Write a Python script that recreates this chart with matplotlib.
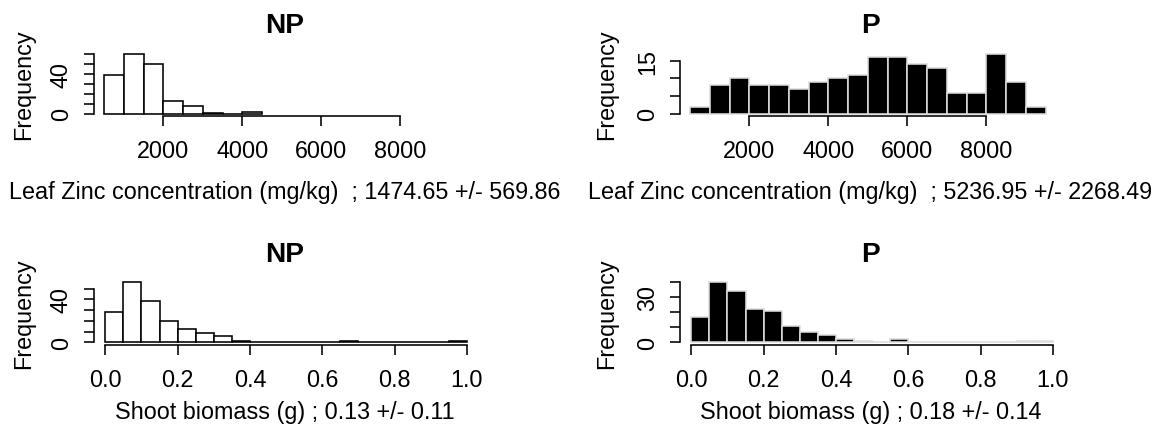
import matplotlib
matplotlib.use("Agg")
import matplotlib.pyplot as plt
from matplotlib.ticker import FixedLocator, FixedFormatter

plt.rcParams["font.family"] = ["Liberation Sans", "DejaVu Sans"]

# ---------------- data ----------------
groups = ["NP", "P"]

# Leaf zinc histograms (bin edges in mg/kg, counts per bin)
zinc_breaks_np = [500, 1000, 1500, 2000, 2500, 3000, 3500, 4000, 4500]
zinc_counts_np = [39, 60, 50, 13, 8, 1, 0, 2]
zinc_breaks_p = [500, 1000, 1500, 2000, 2500, 3000, 3500, 4000, 4500, 5000,
                 5500, 6000, 6500, 7000, 7500, 8000, 8500, 9000, 9500]
zinc_counts_p = [2, 8, 10, 8, 8, 7, 9, 10, 11, 16, 16, 14, 13, 6, 6, 17, 9, 2]
zinc_mean = [1474.65, 5236.95]
zinc_sd = [569.86, 2268.49]

# Shoot biomass histograms (bin edges in g, counts per bin)
biomass_breaks = [0.00, 0.05, 0.10, 0.15, 0.20, 0.25, 0.30, 0.35, 0.40, 0.45, 0.50,
                  0.55, 0.60, 0.65, 0.70, 0.75, 0.80, 0.85, 0.90, 0.95, 1.00]
biomass_counts_np = [28, 56, 38, 20, 12, 9, 6, 1, 0, 0, 0, 0, 0, 1, 0, 0, 0, 0, 0, 1]
biomass_counts_p = [17, 40, 34, 22, 21, 11, 7, 5, 2, 1, 0, 2, 0, 0, 0, 0, 0, 0, 1, 1]
biomass_mean = [0.13, 0.18]
biomass_sd = [0.11, 0.14]

zinc_xticks = [2000, 4000, 6000, 8000]
biomass_xticks = [0.0, 0.2, 0.4, 0.6, 0.8, 1.0]
biomass_xticklabels = ["0.0", "0.2", "0.4", "0.6", "0.8", "1.0"]

# y ticks and which of them carry a label
yticks = {
    ("zinc", "NP"): ([0, 10, 20, 30, 40, 50, 60], [0, 40]),
    ("zinc", "P"): ([0, 5, 10, 15], [0, 15]),
    ("biomass", "NP"): ([0, 10, 20, 30, 40, 50], [0, 40]),
    ("biomass", "P"): ([0, 10, 20, 30, 40], [0, 30]),
}

# ---------------- layout (pixels) ----------------
W, H, DPI = 1162, 431, 100
fig = plt.figure(figsize=(W / DPI, H / DPI), dpi=DPI)
fig.patch.set_facecolor("white")

BASE = 16.8          # pt
TITLE = 20.2         # pt
COL_SHIFT = 586.0
LW = 1.15


def fx(px):
    return px / W


def fy(py):
    return 1 - py / H


def add_px_axes(left, top, right, bottom):
    return fig.add_axes([left / W, 1 - bottom / H, (right - left) / W, (bottom - top) / H])


def draw_panel(col, row, breaks, counts, filled, key, xticks, xticklabels,
               x_anchor_val, x_anchor_px, x_scale, xlabel):
    shift = col * COL_SHIFT
    if row == 0:
        top, bottom = 52.2, 117.2
        title_base, tick_top, xlabel_base = 33.3, 140.0, 199.0
    else:
        top, bottom = 280.7, 345.7
        title_base, tick_top, xlabel_base = 261.7, 369.0, 419.0
    left = 93.7 + shift
    right = 480.0 + shift
    ax = add_px_axes(left, top, right, bottom)

    # x limits so that the data anchor lands on the requested pixel
    x0 = x_anchor_px + shift
    ax.set_xlim(x_anchor_val + (left - x0) / x_scale, x_anchor_val + (right - x0) / x_scale)
    ymax = max(counts)
    ax.set_ylim(-0.04 * ymax, 1.04 * ymax)

    widths = [b - a for a, b in zip(breaks[:-1], breaks[1:])]
    if filled:
        ax.bar(breaks[:-1], counts, width=widths, align="edge", color="black",
               edgecolor="#dcdcdc", linewidth=LW)
    else:
        ax.bar(breaks[:-1], counts, width=widths, align="edge", color="white",
               edgecolor="black", linewidth=LW)

    for s in ("top", "right"):
        ax.spines[s].set_visible(False)
    for s in ("left", "bottom"):
        ax.spines[s].set_linewidth(LW)
    yt, ylab = yticks[key]
    ax.spines["left"].set_bounds(yt[0], yt[-1])
    ax.spines["bottom"].set_bounds(xticks[0], xticks[-1])

    ax.xaxis.set_major_locator(FixedLocator(xticks))
    ax.xaxis.set_major_formatter(FixedFormatter(xticklabels))
    ax.yaxis.set_major_locator(FixedLocator(yt))
    ax.yaxis.set_major_formatter(FixedFormatter([str(v) if v in ylab else "" for v in yt]))
    tick_pad_x = (tick_top - bottom - 10.5) * 72 / DPI
    ax.tick_params(axis="x", direction="out", length=7.5, width=LW, labelsize=BASE,
                   pad=tick_pad_x)
    ax.tick_params(axis="y", direction="out", length=7.5, width=LW, labelsize=BASE,
                   pad=7.5)
    for lab in ax.get_yticklabels():
        lab.set_rotation(90)
        lab.set_va("center")
    ax.patch.set_alpha(0)

    center = (93.7 + 480.0) / 2 - 2.5 + shift
    fig.text(fx(center), fy(title_base), groups[col], ha="center", va="baseline",
             fontsize=TITLE, fontweight="bold")
    fig.text(fx(center), fy(xlabel_base), xlabel, ha="center", va="baseline",
             fontsize=BASE)
    fig.text(fx(23.5 + col * 583.0), fy((top + bottom) / 2), "Frequency", rotation=90,
             ha="center", va="center", fontsize=BASE)
    return ax


zinc_breaks = [zinc_breaks_np, zinc_breaks_p]
zinc_counts = [zinc_counts_np, zinc_counts_p]
biomass_counts = [biomass_counts_np, biomass_counts_p]

for col, grp in enumerate(groups):
    draw_panel(col, 0, zinc_breaks[col], zinc_counts[col], col == 1, ("zinc", grp),
               zinc_xticks, [str(v) for v in zinc_xticks], 500, 104.0, 0.0395,
               "Leaf Zinc concentration (mg/kg)  ; %.2f +/- %.2f" % (zinc_mean[col], zinc_sd[col]))
    draw_panel(col, 1, biomass_breaks, biomass_counts[col], col == 1, ("biomass", grp),
               biomass_xticks, biomass_xticklabels, 0.0, 105.3, 361.5,
               "Shoot biomass (g) ; %.2f +/- %.2f" % (biomass_mean[col], biomass_sd[col]))

fig.savefig("out.png", dpi=DPI, facecolor="white")
